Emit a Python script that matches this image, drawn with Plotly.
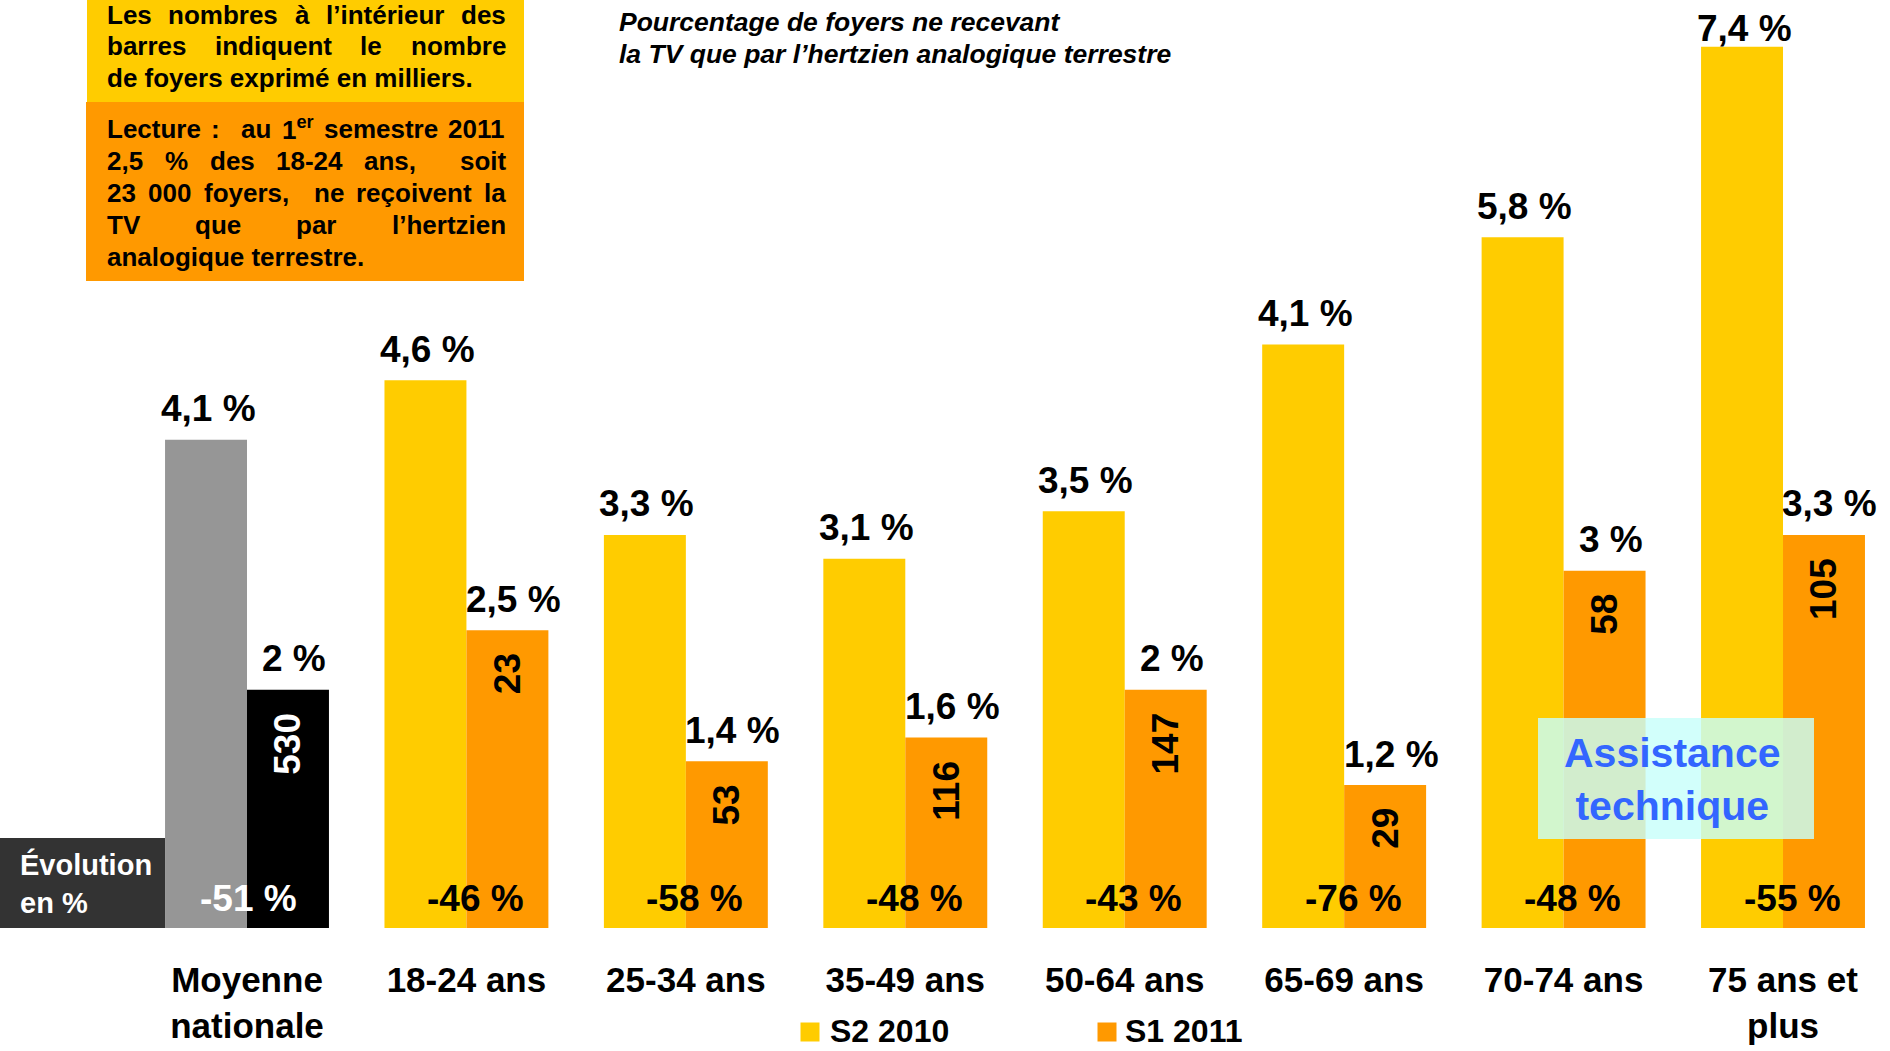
import re
import plotly.graph_objects as go

# ---------------- data ----------------
categories = ["Moyenne nationale", "18-24 ans", "25-34 ans", "35-49 ans",
              "50-64 ans", "65-69 ans", "70-74 ans", "75 ans et plus"]
tick_labels = ["Moyenne<br>nationale", "18-24 ans", "25-34 ans", "35-49 ans",
               "50-64 ans", "65-69 ans", "70-74 ans", "75 ans et<br>plus"]
s2_2010 = [4.1, 4.6, 3.3, 3.1, 3.5, 4.9, 5.8, 7.4]          # bar heights
s2_labels = ["4,1 %", "4,6 %", "3,3 %", "3,1 %", "3,5 %", "4,1 %", "5,8 %", "7,4 %"]  # printed labels
s1_2011 = [2.0, 2.5, 1.4, 1.6, 2.0, 1.2, 3.0, 3.3]
s1_labels = ["2 %", "2,5 %", "1,4 %", "1,6 %", "2 %", "1,2 %", "3 %", "3,3 %"]
households_k = [530, 23, 53, 116, 147, 29, 58, 105]        # milliers de foyers S1 2011
evolution_pct = [-51, -46, -58, -48, -43, -76, -48, -55]   # évolution en %
legend_names = ["S2 2010", "S1 2011"]

title_lines = ["Pourcentage de foyers ne recevant",
               "la TV que par l’hertzien analogique terrestre"]
note_yellow = ["Les nombres à l’intérieur des",
               "barres indiquent le nombre",
               "de foyers exprimé en milliers."]
note_orange = ["Lecture :  au 1<sup>er</sup> semestre 2011",
               "2,5 % des 18-24 ans,  soit",
               "23 000 foyers,  ne reçoivent la",
               "TV que par l’hertzien",
               "analogique terrestre."]
evol_label = "Évolution<br>en %"
assist_label = "Assistance<br>technique"

# ---------------- style / geometry ----------------
FONT = "Liberation Sans, Arial, sans-serif"
YELLOW, ORANGE, GRAY, BLACK = "#FFCC00", "#FF9900", "#969696", "#000000"
FIG_W, FIG_H = 1890, 1051
BASE_PX = 928
PX_PER_Y = 119.1
PX_PER_X = 219.43
X0 = -247 / PX_PER_X
X1 = X0 + FIG_W / PX_PER_X
Y1 = BASE_PX / PX_PER_Y
BARGAP = 0.253
BAR_W = (1 - BARGAP) / 2
LAB = 37
LEG_Y = 1030


def px_x(p):
    return p / FIG_W


def px_y(p):
    return (BASE_PX - p) / BASE_PX


CW = {' ': 278, 'a': 556, 'b': 611, 'c': 556, 'd': 611, 'e': 556, 'f': 333, 'g': 611,
      'h': 611, 'i': 278, 'j': 278, 'k': 556, 'l': 278, 'm': 889, 'n': 611, 'o': 611,
      'p': 611, 'q': 611, 'r': 389, 's': 556, 't': 333, 'u': 611, 'v': 556, 'w': 778,
      'x': 556, 'y': 556, 'z': 500, 'à': 556, 'é': 556, 'è': 556, 'ç': 556, 'ê': 556,
      'L': 611, 'T': 611, 'V': 667, 'S': 667, ',': 278, '.': 278, ':': 333, '%': 889,
      '-': 333, '’': 278, "'": 238}
for d in "0123456789":
    CW[d] = 556


def text_w(s, size):
    total = 0.0
    for part in re.split(r"(<sup>.*?</sup>)", s):
        if part.startswith("<sup>"):
            total += 0.7 * sum(CW.get(c, 556) for c in part[5:-6])
        else:
            total += sum(CW.get(c, 556) for c in part)
    return total * size / 1000.0


def top_shift(v):
    top = BASE_PX - v * PX_PER_Y
    return min(31, top - 28)


fig = go.Figure()
fig.add_bar(x=[0], y=[s2_2010[0]], marker=dict(color=GRAY, line=dict(width=0)),
            offsetgroup="a", showlegend=False, name="Moyenne S2 2010")
fig.add_bar(x=list(range(1, len(categories))), y=s2_2010[1:],
            marker=dict(color=YELLOW, line=dict(width=0)), offsetgroup="a", name=legend_names[0])
fig.add_bar(x=[0], y=[s1_2011[0]], marker=dict(color=BLACK, line=dict(width=0)),
            offsetgroup="b", showlegend=False, name="Moyenne S1 2011")
fig.add_bar(x=list(range(1, len(categories))), y=s1_2011[1:],
            marker=dict(color=ORANGE, line=dict(width=0)), offsetgroup="b", name=legend_names[1])

ann = []
lab_font = dict(family=FONT, size=LAB, color="black", weight="bold")
for i in range(len(categories)):
    ann.append(dict(x=i - BAR_W / 2, y=s2_2010[i], text=s2_labels[i], showarrow=False,
                    yanchor="middle", yshift=top_shift(s2_2010[i]), xshift=2, font=lab_font))
    ann.append(dict(x=i + BAR_W / 2, y=s1_2011[i], text=s1_labels[i], showarrow=False,
                    yanchor="middle", yshift=top_shift(s1_2011[i]), xshift=6, font=lab_font))
    ann.append(dict(x=i + BAR_W / 2, y=s1_2011[i], text=str(households_k[i]), showarrow=False,
                    textangle=-90, yanchor="top", yshift=-21,
                    font=dict(family=FONT, size=37, weight="bold",
                              color="white" if i == 0 else "black")))
    ann.append(dict(x=i, y=0, text=f"{evolution_pct[i]} %", showarrow=False,
                    yanchor="middle", yshift=30, xshift=9 if i else 1,
                    font=dict(family=FONT, size=LAB, weight="bold",
                              color="white" if i == 0 else "black")))

for k, line in enumerate(title_lines):
    ann.append(dict(xref="paper", yref="paper", x=px_x(618), y=px_y(22 + 32 * k),
                    xanchor="left", yanchor="middle", text=line, showarrow=False, borderpad=0,
                    font=dict(family=FONT, size=26.5, color="black", weight="bold", style="italic")))

NOTE_SIZE = 26
LEFT, RIGHT = 106, 505


def add_line(line, ypx, justify):
    nf = dict(family=FONT, size=NOTE_SIZE, color="black", weight="bold")
    if not justify:
        ann.append(dict(xref="paper", yref="paper", x=px_x(LEFT), y=px_y(ypx), xanchor="left",
                        yanchor="middle", text=line, showarrow=False, borderpad=0, font=nf))
        return
    toks = line.split(" ")
    ws = [text_w(t, NOTE_SIZE) for t in toks]
    gap = (RIGHT - LEFT - sum(ws)) / (len(toks) - 1)
    xx = LEFT
    for t, w in zip(toks, ws):
        if t:
            ann.append(dict(xref="paper", yref="paper", x=px_x(xx), y=px_y(ypx), xanchor="left",
                            yanchor="middle", text=t, showarrow=False, borderpad=0, font=nf))
        xx += w + gap


for k, line in enumerate(note_yellow):
    add_line(line, 15 + 31.3 * k, k < len(note_yellow) - 1)
for k, line in enumerate(note_orange):
    add_line(line, 129 + 32 * k, k < len(note_orange) - 1)

ann.append(dict(xref="paper", yref="paper", x=px_x(19), y=px_y(883), xanchor="left",
                yanchor="middle", align="left", text=evol_label, showarrow=False, borderpad=0,
                font=dict(family=FONT, size=29, color="white", weight="bold")))
ann.append(dict(xref="paper", yref="paper", x=px_x(1672), y=px_y(780), xanchor="center",
                yanchor="middle", align="center", text=assist_label, showarrow=False,
                font=dict(family=FONT, size=41, color="#3366FF", weight="bold")))

# legend swatches enlarged to the reference's size (drawn under plotly's 12px swatch)
LEG_X = 790
sw = []
for k, col in enumerate([YELLOW, ORANGE]):
    cx = 810 + 297 * k
    sw.append(dict(type="rect", xref="paper", yref="paper", x0=px_x(cx - 9.5), x1=px_x(cx + 9.5),
                   y0=px_y(LEG_Y + 2 + 9.5), y1=px_y(LEG_Y + 2 - 9.5), fillcolor=col, line=dict(width=0)))

shapes = [
    dict(type="rect", xref="paper", yref="paper", x0=px_x(87), x1=px_x(524), y0=px_y(102), y1=px_y(0),
         fillcolor=YELLOW, line=dict(width=0), layer="below"),
    dict(type="rect", xref="paper", yref="paper", x0=px_x(86), x1=px_x(524), y0=px_y(281), y1=px_y(102),
         fillcolor=ORANGE, line=dict(width=0), layer="below"),
    dict(type="rect", xref="x", yref="y", x0=X0, x1=-BAR_W, y0=0, y1=90 / PX_PER_Y,
         fillcolor="#333333", line=dict(width=0), layer="below"),
    dict(type="rect", xref="paper", yref="paper", x0=px_x(1538), x1=px_x(1814), y0=px_y(839), y1=px_y(718),
         fillcolor="rgba(200,255,250,0.82)", line=dict(width=0), layer="above"),
] + sw

fig.update_layout(
    width=FIG_W, height=FIG_H,
    margin=dict(l=0, r=0, t=0, b=FIG_H - BASE_PX, pad=0, autoexpand=False),
    paper_bgcolor="white", plot_bgcolor="white",
    barmode="group", bargap=BARGAP, bargroupgap=0,
    font=dict(family=FONT),
    xaxis=dict(range=[X0, X1], tickmode="array", tickvals=list(range(len(categories))),
               ticktext=tick_labels, showgrid=False, zeroline=False, showline=False, ticks="",
               ticklabelstandoff=28, automargin=False,
               tickfont=dict(family=FONT, size=35, color="black", weight="bold")),
    yaxis=dict(range=[0, Y1], visible=False, showgrid=False, zeroline=False, automargin=False),
    legend=dict(orientation="h", x=px_x(LEG_X), y=px_y(LEG_Y), xanchor="left", yanchor="middle",
                font=dict(family=FONT, size=32, color="black", weight="bold"),
                entrywidth=250, entrywidthmode="pixels", bgcolor="rgba(0,0,0,0)"),
    annotations=ann, shapes=shapes,
)

post = ("document.body.style.margin='0';document.body.style.padding='0';"
        "document.body.style.overflow='hidden';")
fig.write_html("out.html", config={"displayModeBar": False}, post_script=post)
